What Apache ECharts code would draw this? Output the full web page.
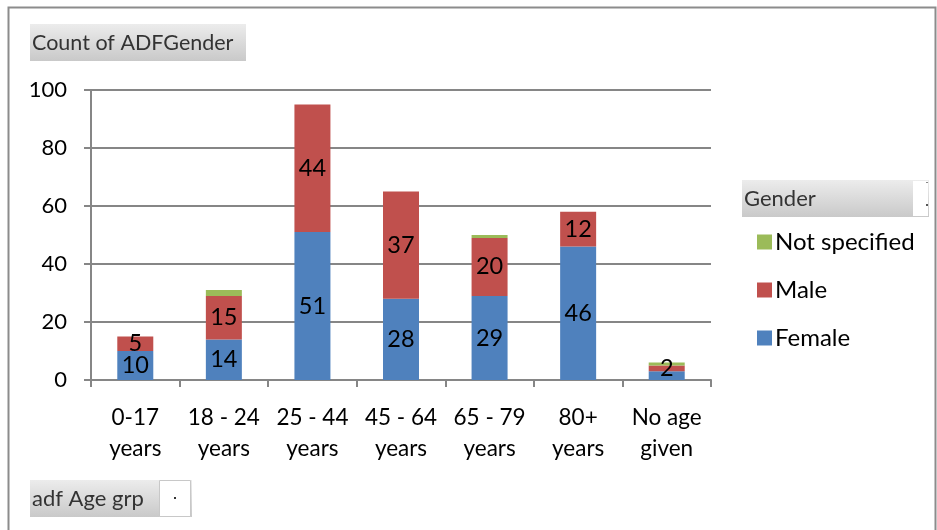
<!DOCTYPE html>
<html>
<head>
<meta charset="utf-8">
<script src="https://cdn.jsdelivr.net/npm/echarts@6/dist/echarts.min.js"></script>
<style>
html,body{margin:0;padding:0;background:#fff;}
#chart{width:937px;height:530px;}
</style>
</head>
<body>
<div id="chart"></div>
<script>
// Age groups on the category axis
const ageGroups = ['0-17\nyears', '18 - 24\nyears', '25 - 44\nyears', '45 - 64\nyears', '65 - 79\nyears', '80+\nyears', 'No age\ngiven'];
// Counts by gender for each age group
const female = [10, 14, 51, 28, 29, 46, 3];
const male = [5, 15, 44, 37, 20, 12, 2];
const notSpecified = [0, 2, 0, 0, 1, 0, 1];
// Which female values carry a visible label
const femaleLabelShown = [true, true, true, true, true, true, false];
const yTicks = { min: 0, max: 100, step: 20 };

const FONT = 'Lato, "Noto Sans", sans-serif';
const btnGrad = new echarts.graphic.LinearGradient(0, 0, 0, 1, [
  { offset: 0, color: '#ececec' },
  { offset: 1, color: '#c9c9c9' }
]);

function labelled(values, shown) {
  return values.map((v, i) => ({
    value: v,
    label: { show: shown ? shown[i] : true }
  }));
}

const chart = echarts.init(document.getElementById('chart'));
chart.setOption({
  animation: false,
  textStyle: { fontFamily: FONT },
  grid: { left: 91, top: 90, right: 226, bottom: 150, containLabel: false },
  legend: {
    data: ['Not specified', 'Male', 'Female'],
    orient: 'vertical',
    left: 752,
    top: 225,
    itemWidth: 15,
    itemHeight: 15,
    itemGap: 24,
    icon: 'rect',
    selectedMode: false,
    textStyle: { fontSize: 24, color: '#000', fontFamily: FONT, padding: [0, 0, 0, -2] }
  },
  xAxis: {
    type: 'category',
    data: ageGroups,
    axisLine: { lineStyle: { color: '#868686', width: 2 } },
    axisTick: { show: true, alignWithLabel: false, length: 7, lineStyle: { color: '#868686', width: 2 } },
    axisLabel: { interval: 0, fontSize: 22.5, color: '#000', lineHeight: 31, margin: 22, fontFamily: FONT }
  },
  yAxis: {
    type: 'value',
    min: yTicks.min,
    max: yTicks.max,
    interval: yTicks.step,
    axisLine: { show: true, lineStyle: { color: '#868686', width: 2 } },
    axisTick: { show: true, length: 7, lineStyle: { color: '#868686', width: 2 } },
    axisLabel: { fontSize: 22, color: '#000', margin: 24, fontFamily: FONT },
    splitLine: { show: true, lineStyle: { color: '#868686', width: 2 } }
  },
  series: [
    {
      name: 'Female', type: 'bar', stack: 'g', barWidth: 36,
      itemStyle: { color: '#4F81BD' },
      label: { show: true, position: 'inside', color: '#000', fontSize: 23.5, fontFamily: FONT },
      data: labelled(female, femaleLabelShown)
    },
    {
      name: 'Male', type: 'bar', stack: 'g', barWidth: 36,
      itemStyle: { color: '#C0504D' },
      label: { show: true, position: 'inside', color: '#000', fontSize: 23.5, fontFamily: FONT },
      data: labelled(male)
    },
    {
      name: 'Not specified', type: 'bar', stack: 'g', barWidth: 36,
      itemStyle: { color: '#9BBB59' },
      label: { show: false },
      data: notSpecified
    }
  ],
  graphic: [
    // chart frame
    { type: 'rect', shape: { x: 8.5, y: 7.5, width: 927, height: 540 }, style: { fill: 'none', stroke: '#8c8c8c', lineWidth: 2 }, silent: true },
    // value field button
    { type: 'rect', shape: { x: 30, y: 24, width: 216, height: 37 }, style: { fill: btnGrad } },
    { type: 'text', x: 32, y: 43, style: { text: 'Count of ADFGender', fontSize: 21.5, fill: '#333', fontFamily: FONT, verticalAlign: 'middle' } },
    // legend field button
    { type: 'rect', shape: { x: 742, y: 180, width: 187, height: 37 }, style: { fill: btnGrad } },
    { type: 'rect', shape: { x: 913, y: 181, width: 15, height: 35 }, style: { fill: '#fff' } },
    { type: 'rect', shape: { x: 926, y: 182, width: 2, height: 1 }, style: { fill: '#888' } },
    { type: 'rect', shape: { x: 926, y: 204, width: 2, height: 2 }, style: { fill: '#555' } },
    { type: 'text', x: 744, y: 199, style: { text: 'Gender', fontSize: 22, fill: '#333', fontFamily: FONT, verticalAlign: 'middle' } },
    // axis field button
    { type: 'rect', shape: { x: 30, y: 480, width: 162, height: 37 }, style: { fill: btnGrad } },
    { type: 'rect', shape: { x: 159.5, y: 480.5, width: 31, height: 36 }, style: { fill: '#fff', stroke: '#c8c8c8', lineWidth: 1 } },
    { type: 'rect', shape: { x: 174, y: 497, width: 2, height: 2 }, style: { fill: '#333' } },
    { type: 'text', x: 32, y: 499, style: { text: 'adf Age grp', fontSize: 22, fill: '#333', fontFamily: FONT, verticalAlign: 'middle' } }
  ]
});
</script>
</body>
</html>
